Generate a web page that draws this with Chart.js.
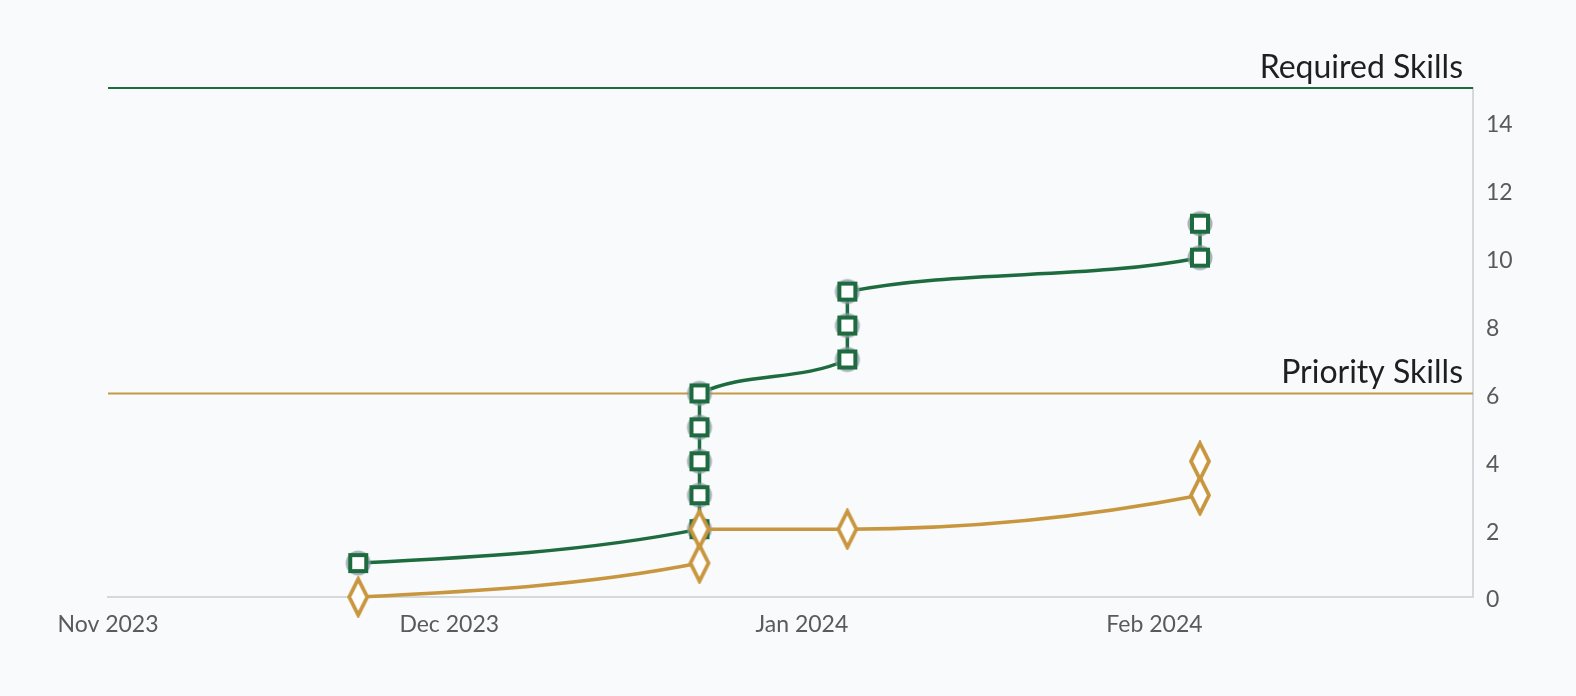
<!DOCTYPE html>
<html>
<head>
<meta charset="utf-8">
<script src="https://cdn.jsdelivr.net/npm/chart.js@4"></script>
<style>
  html, body { margin: 0; padding: 0; background: #f8fafc; }
  #wrap { width: 1576px; height: 696px; position: relative; }
</style>
</head>
<body>
<div id="wrap"><canvas id="c" width="1576" height="696"></canvas></div>
<script>
// ---- Data ----
const requiredDates = ['2023-11-23','2023-12-23','2023-12-23','2023-12-23','2023-12-23','2023-12-23','2024-01-05','2024-01-05','2024-01-05','2024-02-05','2024-02-05'];
const requiredValues = [1, 2, 3, 4, 5, 6, 7, 8, 9, 10, 11];
const priorityDates = ['2023-11-23','2023-12-23','2023-12-23','2024-01-05','2024-02-05','2024-02-05'];
const priorityValues = [0, 1, 2, 2, 3, 4];
const xTickDates = ['2023-11-01','2023-12-01','2024-01-01','2024-02-01'];
const xMinDate = '2023-11-01';
const xMaxDate = '2024-02-29';
const yTicks = [0, 2, 4, 6, 8, 10, 12, 14];
const yMax = 15;
const thresholdLabels = ['Required Skills', 'Priority Skills'];
const thresholdValues = [15, 6];
const thresholdColors = ['#1d6b3f', '#c49a45'];
const monthNames = ['Jan','Feb','Mar','Apr','May','Jun','Jul','Aug','Sep','Oct','Nov','Dec'];

const GREEN = '#1d6b3f';
const GOLD = '#c8963e';
const FONT = 'Lato, "Noto Sans", sans-serif';

function ts(d) { return Date.parse(d + 'T00:00:00Z'); }
function fmt(v) { const d = new Date(v); return monthNames[d.getUTCMonth()] + ' ' + d.getUTCFullYear(); }

// ---- point style canvases ----
function squareMarker() {
  const c = document.createElement('canvas');
  c.width = 28; c.height = 28;
  const g = c.getContext('2d');
  g.fillStyle = 'rgba(140,155,165,0.75)';
  g.beginPath(); g.arc(14, 14, 12.5, 0, Math.PI * 2); g.fill();
  g.fillStyle = GREEN;
  g.fillRect(4, 4, 20, 20);
  g.fillStyle = '#ffffff';
  g.fillRect(8, 8, 12, 12);
  return c;
}
function diamondMarker() {
  const c = document.createElement('canvas');
  c.width = 26; c.height = 42;
  const g = c.getContext('2d');
  g.beginPath();
  g.moveTo(13, 3); g.lineTo(22, 21); g.lineTo(13, 39); g.lineTo(4, 21); g.closePath();
  g.fillStyle = '#ffffff'; g.fill();
  g.lineWidth = 3.8; g.strokeStyle = GOLD; g.lineJoin = 'miter'; g.stroke();
  return c;
}

// ---- monotone-X (d3 style) control points ----
function dsign(x) { return x < 0 ? -1 : 1; }
function slope3(p0, p1, p2) {
  const h0 = p1.x - p0.x, h1 = p2.x - p1.x;
  const s0 = (p1.y - p0.y) / (h0 || (h1 < 0 && -0));
  const s1 = (p2.y - p1.y) / (h1 || (h0 < 0 && -0));
  const p = (s0 * h1 + s1 * h0) / (h0 + h1);
  return (dsign(s0) + dsign(s1)) * Math.min(Math.abs(s0), Math.abs(s1), 0.5 * Math.abs(p)) || 0;
}
function slope2(p0, p1, t) {
  const h = p1.x - p0.x;
  return h ? (3 * (p1.y - p0.y) / h - t) / 2 : t;
}
const monotonePlugin = {
  id: 'monotoneX',
  beforeDatasetDraw(chart, args) {
    const meta = args.meta;
    const line = meta.dataset;
    if (!line) return;
    line.updateControlPoints(chart.chartArea, 'x');
    const pts = line.points;
    const n = pts.length;
    if (n < 2) return;
    const t = new Array(n).fill(0);
    if (n === 2) {
      const s = (pts[1].x - pts[0].x) ? (pts[1].y - pts[0].y) / (pts[1].x - pts[0].x) : 0;
      t[0] = s; t[1] = s;
    } else {
      for (let i = 1; i < n - 1; i++) t[i] = slope3(pts[i - 1], pts[i], pts[i + 1]);
      t[0] = slope2(pts[0], pts[1], t[1]);
      t[n - 1] = slope2(pts[n - 2], pts[n - 1], t[n - 2]);
    }
    for (let i = 0; i < n; i++) {
      const p = pts[i];
      if (i > 0) {
        const dx = (p.x - pts[i - 1].x) / 3;
        p.cp1x = p.x - dx; p.cp1y = p.y - dx * t[i];
      } else { p.cp1x = p.x; p.cp1y = p.y; }
      if (i < n - 1) {
        const dx = (pts[i + 1].x - p.x) / 3;
        p.cp2x = p.x + dx; p.cp2y = p.y + dx * t[i];
      } else { p.cp2x = p.x; p.cp2y = p.y; }
    }
    line._path = undefined;
  }
};

const thresholdPlugin = {
  id: 'thresholds',
  beforeDatasetsDraw(chart) {
    const { ctx, chartArea, scales } = chart;
    thresholdValues.forEach((v, i) => {
      const y = scales.y.getPixelForValue(v);
      ctx.save();
      ctx.strokeStyle = thresholdColors[i];
      ctx.lineWidth = 2;
      ctx.beginPath();
      ctx.moveTo(chartArea.left, y);
      ctx.lineTo(chartArea.right, y);
      ctx.stroke();
      ctx.fillStyle = '#1f1f1f';
      ctx.font = '400 32px ' + FONT;
      ctx.textAlign = 'right';
      ctx.textBaseline = 'alphabetic';
      ctx.fillText(thresholdLabels[i], chartArea.right - 10, y - 10);
      ctx.restore();
    });
  }
};

const bgPlugin = {
  id: 'bg',
  beforeDraw(chart) {
    const { ctx } = chart;
    ctx.save();
    ctx.fillStyle = '#f8fafc';
    ctx.fillRect(0, 0, chart.width, chart.height);
    ctx.restore();
  }
};

new Chart(document.getElementById('c'), {
  type: 'line',
  data: {
    datasets: [
      {
        label: 'Required',
        data: requiredDates.map((d, i) => ({ x: ts(d), y: requiredValues[i] })),
        borderColor: GREEN,
        borderWidth: 3.5,
        cubicInterpolationMode: 'monotone',
        pointStyle: squareMarker(),
        pointRadius: 10,
        order: 1
      },
      {
        label: 'Priority',
        data: priorityDates.map((d, i) => ({ x: ts(d), y: priorityValues[i] })),
        borderColor: GOLD,
        borderWidth: 3.5,
        cubicInterpolationMode: 'monotone',
        pointStyle: diamondMarker(),
        pointRadius: 10,
        order: 0
      }
    ]
  },
  options: {
    responsive: false,
    animation: false,
    clip: false,
    layout: { padding: { left: 108, top: 88, right: 0, bottom: 0 } },
    plugins: { legend: { display: false }, tooltip: { enabled: false } },
    scales: {
      x: {
        type: 'linear',
        min: ts(xMinDate),
        max: ts(xMaxDate),
        grid: { display: false, drawTicks: false },
        border: { display: true, color: '#d5d8dc', width: 2 },
        afterBuildTicks(scale) { scale.ticks = xTickDates.map(d => ({ value: ts(d) })); },
        afterFit(scale) { scale.height = 99; },
        ticks: {
          callback: v => fmt(v),
          color: '#5a5a5a',
          font: { family: FONT, size: 23 },
          padding: 14,
          maxRotation: 0,
          autoSkip: false
        }
      },
      y: {
        position: 'right',
        min: 0,
        max: yMax,
        grid: { display: false, drawTicks: false },
        border: { display: true, color: '#d5d8dc', width: 2 },
        afterBuildTicks(scale) { scale.ticks = yTicks.map(v => ({ value: v })); },
        afterFit(scale) { scale.width = 103; },
        ticks: {
          color: '#5a5a5a',
          font: { family: FONT, size: 23 },
          padding: 13,
          labelOffset: 3
        }
      }
    }
  },
  plugins: [bgPlugin, thresholdPlugin, monotonePlugin]
});
</script>
</body>
</html>
